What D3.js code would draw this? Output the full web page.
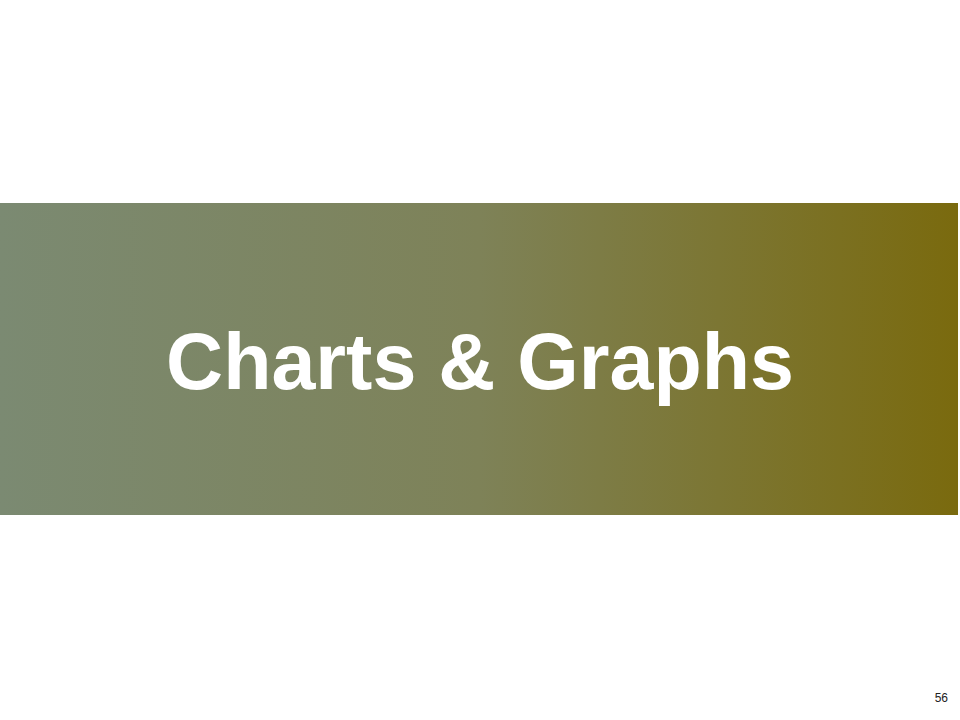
<!DOCTYPE html>
<html>
<head>
<meta charset="utf-8">
<script src="https://cdn.jsdelivr.net/npm/d3@7"></script>
<style>
  body { margin: 0; background: #ffffff; }
</style>
</head>
<body>
<div id="slide"></div>
<script>
// slide content
var titles = ["Charts & Graphs"];
var pageLabels = ["56"];
var gradientStops = [
  {offset: "0%", color: "#7b8a72"},
  {offset: "50%", color: "#7e8258"},
  {offset: "100%", color: "#7a6a0e"}
];

var width = 960, height = 720;

var svg = d3.select("#slide").append("svg")
    .attr("width", width)
    .attr("height", height);

var grad = svg.append("defs").append("linearGradient")
    .attr("id", "band")
    .attr("x1", "0%").attr("x2", "100%")
    .attr("y1", "0%").attr("y2", "0%");

grad.selectAll("stop").data(gradientStops).enter().append("stop")
    .attr("offset", function(d) { return d.offset; })
    .attr("stop-color", function(d) { return d.color; });

svg.append("rect")
    .attr("x", 0)
    .attr("y", 203)
    .attr("width", 958)
    .attr("height", 312)
    .attr("fill", "url(#band)");

svg.selectAll(".title").data(titles).enter().append("text")
    .attr("class", "title")
    .attr("x", 480)
    .attr("y", 389)
    .attr("text-anchor", "middle")
    .attr("fill", "#ffffff")
    .style("font-family", "'Liberation Sans', Arial, sans-serif")
    .style("font-weight", "bold")
    .style("font-size", "79px")
    .text(function(d) { return d; });

svg.selectAll(".page").data(pageLabels).enter().append("text")
    .attr("class", "page")
    .attr("x", 948)
    .attr("y", 702)
    .attr("text-anchor", "end")
    .attr("fill", "#222222")
    .style("font-family", "'Liberation Sans', Arial, sans-serif")
    .style("font-size", "12px")
    .text(function(d) { return d; });
</script>
</body>
</html>
